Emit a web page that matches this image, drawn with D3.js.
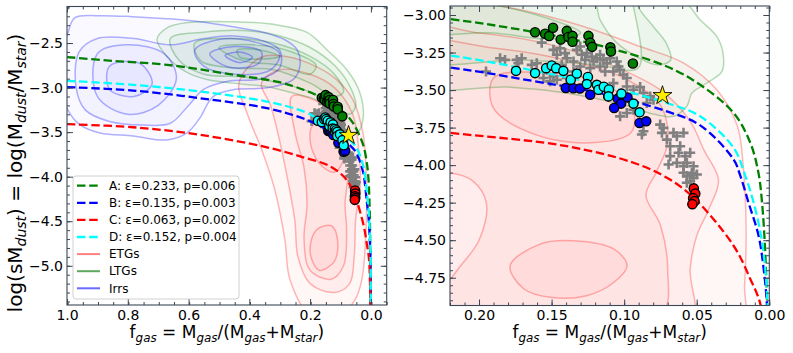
<!DOCTYPE html>
<html>
<head>
<meta charset="utf-8">
<script src="https://cdn.jsdelivr.net/npm/d3@7"></script>
<style>
  body { margin: 0; background: #fff; }
  svg text { font-family: "DejaVu Sans", sans-serif; }
</style>
</head>
<body>
<svg id="chart" width="793" height="353"></svg>
<script>
/* model tracks, [f_gas, log(Mdust/Mstar)] */
const curveA = [[1.0,-2.657],[0.85,-2.70],[0.67,-2.745],[0.45,-2.857],[0.3,-2.94],[0.22,-3.027],[0.17,-3.1],[0.1166,-3.204],[0.0706,-3.343],[0.0476,-3.465],[0.0246,-3.652],[0.0131,-3.851],[0.0075,-4.05],[0.005,-4.25],[0.0028,-4.58],[0.0016,-4.93],[0.0008,-5.3],[0.0004,-5.6]];
const curveB = [[1.0,-2.995],[0.783,-3.033],[0.5625,-3.119],[0.342,-3.231],[0.22,-3.35],[0.1625,-3.44],[0.1166,-3.52],[0.0706,-3.642],[0.0476,-3.735],[0.0246,-3.962],[0.02,-4.07],[0.0143,-4.25],[0.0074,-4.47],[0.0039,-4.69],[0.0016,-4.93],[0.0007,-5.25],[0.0003,-5.6]];
const curveC = [[1.0,-3.411],[0.783,-3.445],[0.5625,-3.53],[0.342,-3.67],[0.22,-3.785],[0.1395,-3.874],[0.0936,-3.984],[0.0706,-4.084],[0.0522,-4.216],[0.0246,-4.537],[0.0131,-4.758],[0.0062,-4.924],[0.003,-5.2],[0.0015,-5.6]];
const curveD = [[1.0,-2.924],[0.783,-2.969],[0.5625,-3.044],[0.342,-3.157],[0.22,-3.27],[0.1625,-3.37],[0.1166,-3.465],[0.0706,-3.586],[0.0476,-3.675],[0.0246,-3.885],[0.0166,-4.07],[0.0108,-4.25],[0.0057,-4.47],[0.0028,-4.69],[0.0012,-4.93],[0.0005,-5.25],[0.0002,-5.6]];
const modelLabels = ["A: ε=0.233, p=0.006", "B: ε=0.135, p=0.003", "C: ε=0.063, p=0.002", "D: ε=0.152, p=0.004"];
const modelColors = ["#008000", "#0000ff", "#ff0000", "#00ffff"];

/* galaxies fitted by each track */
const galA = [[0.1614,-3.115],[0.1545,-3.125],[0.1517,-3.14],[0.149,-3.085],[0.1437,-3.163],[0.1395,-3.106],[0.1384,-3.146],[0.1356,-3.139],[0.1356,-3.178],[0.1246,-3.139],[0.1234,-3.184],[0.1221,-3.212],[0.1095,-3.215],[0.1091,-3.243],[0.094,-3.323]];
const galB = [[0.1402,-3.486],[0.135,-3.488],[0.1305,-3.49],[0.1234,-3.531],[0.111,-3.54],[0.1044,-3.557],[0.1021,-3.59],[0.1069,-3.619],[0.0977,-3.549],[0.0894,-3.719],[0.0848,-3.708]];
const galC = [[0.052,-4.155],[0.051,-4.19],[0.0525,-4.22],[0.0515,-4.24],[0.053,-4.26]];
const galD = [[0.1745,-3.372],[0.1614,-3.387],[0.1538,-3.354],[0.1499,-3.336],[0.1469,-3.354],[0.1419,-3.372],[0.1368,-3.431],[0.1326,-3.39],[0.125,-3.413],[0.1257,-3.46],[0.1188,-3.465],[0.1177,-3.498],[0.114,-3.478],[0.1105,-3.496],[0.1108,-3.542],[0.1019,-3.524],[0.0936,-3.59],[0.0894,-3.648]];
const galOther = [[0.1855,-3.288],[0.1821,-3.299],[0.174,-3.299],[0.1706,-3.288],[0.1729,-3.321],[0.1952,-3.376],[0.1568,-3.184],[0.1487,-3.232],[0.1464,-3.265],[0.1441,-3.221],[0.1407,-3.254],[0.1395,-3.288],[0.1349,-3.31],[0.1326,-3.232],[0.1303,-3.21],[0.1292,-3.265],[0.1269,-3.299],[0.1257,-3.254],[0.1223,-3.277],[0.1211,-3.31],[0.1189,-3.288],[0.1166,-3.265],[0.1143,-3.299],[0.112,-3.321],[0.1097,-3.288],[0.1051,-3.31],[0.1039,-3.343],[0.1028,-3.365],[0.1074,-3.376],[0.1005,-3.398],[0.0982,-3.42],[0.1166,-3.343],[0.1131,-3.376],[0.1234,-3.354],[0.1303,-3.343],[0.1349,-3.376],[0.1487,-3.409],[0.1464,-3.431],[0.1556,-3.42],[0.151,-3.442],[0.1395,-3.42],[0.143,-3.332],[0.1533,-3.365],[0.1637,-3.332],[0.1602,-3.321],[0.1074,-3.454],[0.0982,-3.476],[0.0936,-3.498],[0.089,-3.48],[0.0867,-3.52],[0.0821,-3.542],[0.0798,-3.564],[0.0844,-3.586],[0.0936,-3.631],[0.0982,-3.653],[0.1028,-3.675],[0.0752,-3.73],[0.0729,-3.752],[0.074,-3.785],[0.0706,-3.83],[0.0683,-3.874],[0.066,-3.785],[0.0637,-3.808],[0.0591,-3.785],[0.0614,-3.874],[0.0625,-3.918],[0.0579,-3.94],[0.0545,-3.918],[0.0568,-3.985],[0.0522,-4.007],[0.0533,-4.051],[0.0499,-4.062],[0.0591,-4.007],[0.0637,-3.985],[0.0694,-3.996],[0.0683,-3.94],[0.0867,-3.774],[0.0878,-3.796],[0.0591,-4.051],[0.0568,-4.073],[0.0533,-4.062],[0.0545,-4.106],[0.0522,-4.084],[0.0568,-4.117]];
const milkyWay = [[0.0736,-3.537]];

/* density contours (outer to inner), one set per panel */
const etgLeft = [
  [[0.434,-2.947],[0.365,-2.665],[0.276,-2.654],[0.178,-2.767],[0.112,-2.913],[0.059,-3.138],[0.026,-3.51],[0.016,-3.925],[0.016,-4.6],[0.03,-5.16],[0.053,-5.386],[0.1,-5.55],[0.2,-5.55],[0.266,-5.16],[0.283,-4.71],[0.316,-4.15],[0.359,-3.7],[0.405,-3.31]],
  [[0.36,-2.95],[0.3,-2.8],[0.2,-2.85],[0.12,-3.0],[0.06,-3.3],[0.04,-3.7],[0.035,-4.1],[0.05,-4.47],[0.055,-4.9],[0.07,-5.2],[0.12,-5.3],[0.2,-5.2],[0.24,-4.9],[0.25,-4.5],[0.27,-4.1],[0.3,-3.6],[0.33,-3.2]],
  [[0.26,-3.1],[0.18,-3.15],[0.1,-3.4],[0.07,-3.7],[0.075,-4.0],[0.085,-4.3],[0.08,-4.6],[0.09,-5.0],[0.13,-5.15],[0.2,-5.05],[0.22,-4.7],[0.21,-4.3],[0.22,-3.9],[0.25,-3.5]],
  [[0.19,-3.42],[0.14,-3.4],[0.1,-3.55],[0.09,-3.8],[0.12,-3.95],[0.17,-3.85],[0.2,-3.6]],
  [[0.18,-4.6],[0.13,-4.55],[0.11,-4.7],[0.12,-4.95],[0.17,-5.05],[0.2,-4.85]]
];
const ltgLeft = [
  [[0.704,-2.46],[0.671,-2.33],[0.605,-2.27],[0.454,-2.26],[0.322,-2.29],[0.21,-2.38],[0.145,-2.575],[0.079,-2.8],[0.036,-3.06],[0.026,-3.36],[0.046,-3.51],[0.079,-3.475],[0.125,-3.28],[0.178,-3.14],[0.257,-3.06],[0.342,-2.99],[0.454,-2.95],[0.54,-2.91],[0.605,-2.83],[0.671,-2.65]],
  [[0.66,-2.45],[0.55,-2.38],[0.42,-2.36],[0.3,-2.42],[0.2,-2.55],[0.12,-2.75],[0.07,-2.98],[0.05,-3.2],[0.07,-3.3],[0.12,-3.2],[0.2,-3.05],[0.3,-2.95],[0.42,-2.88],[0.55,-2.85],[0.63,-2.7]],
  [[0.58,-2.5],[0.45,-2.45],[0.32,-2.5],[0.2,-2.65],[0.12,-2.85],[0.09,-3.05],[0.12,-3.1],[0.2,-2.95],[0.32,-2.8],[0.45,-2.78],[0.56,-2.7]],
  [[0.5,-2.55],[0.38,-2.52],[0.26,-2.6],[0.18,-2.75],[0.2,-2.85],[0.3,-2.75],[0.42,-2.7]],
  [[0.44,-2.58],[0.36,-2.58],[0.3,-2.65],[0.36,-2.68],[0.43,-2.66]]
];
const irrLeft = [
  [[1.03,-2.8],[0.997,-2.385],[0.974,-2.215],[0.891,-2.193],[0.783,-2.204],[0.671,-2.227],[0.5625,-2.26],[0.454,-2.317],[0.349,-2.384],[0.283,-2.463],[0.243,-2.575],[0.234,-2.767],[0.257,-2.913],[0.342,-3.003],[0.454,-3.025],[0.52,-3.104],[0.5625,-3.34],[0.605,-3.509],[0.671,-3.588],[0.783,-3.543],[0.891,-3.509],[0.957,-3.419],[0.997,-3.25]],
  [[0.96,-2.6],[0.9,-2.45],[0.78,-2.45],[0.66,-2.52],[0.55,-2.45],[0.45,-2.42],[0.36,-2.47],[0.3,-2.58],[0.3,-2.78],[0.36,-2.9],[0.47,-2.93],[0.55,-3.02],[0.6,-3.2],[0.66,-3.4],[0.75,-3.42],[0.86,-3.38],[0.94,-3.25],[0.97,-3.0]],
  [[0.9,-2.62],[0.8,-2.52],[0.68,-2.62],[0.64,-2.9],[0.7,-3.2],[0.8,-3.3],[0.9,-3.1]],
  [[0.58,-2.58],[0.5,-2.46],[0.38,-2.49],[0.3,-2.62],[0.33,-2.8],[0.45,-2.85],[0.55,-2.76]],
  [[0.86,-2.76],[0.76,-2.73],[0.72,-2.96],[0.78,-3.1],[0.86,-3.02]],
  [[0.53,-2.62],[0.45,-2.54],[0.36,-2.6],[0.37,-2.73],[0.47,-2.77]],
  [[0.48,-2.64],[0.43,-2.6],[0.39,-2.66],[0.43,-2.72]]
];
const etgRight = [
  [[0.25,-2.85],[0.185,-2.94],[0.156,-3.0],[0.128,-3.077],[0.089,-3.21],[0.059,-3.32],[0.036,-3.5],[0.022,-3.74],[0.018,-4.0],[0.016,-4.4],[0.017,-4.8],[0.02,-5.1],[0.25,-5.1]],
  [[0.25,-3.1],[0.2,-3.12],[0.15,-3.2],[0.11,-3.33],[0.075,-3.5],[0.055,-3.7],[0.045,-3.9],[0.035,-4.1],[0.042,-4.3],[0.05,-4.47],[0.0545,-4.69],[0.0545,-5.1],[0.25,-5.1]],
  [[0.25,-3.2],[0.19,-3.22],[0.14,-3.3],[0.1,-3.42],[0.075,-3.6],[0.07,-3.85],[0.078,-4.05],[0.085,-4.2],[0.075,-4.4],[0.07,-4.7],[0.075,-5.0],[0.22,-5.0],[0.225,-4.85],[0.215,-4.7],[0.2,-4.5],[0.195,-4.25],[0.205,-4.1],[0.22,-4.05],[0.25,-4.05]],
  [[0.19,-3.42],[0.16,-3.38],[0.12,-3.44],[0.095,-3.6],[0.095,-3.78],[0.12,-3.85],[0.16,-3.8],[0.19,-3.62]],
  [[0.1786,-4.67],[0.158,-4.526],[0.135,-4.504],[0.107,-4.56],[0.098,-4.67],[0.107,-4.78],[0.126,-4.87],[0.151,-4.88],[0.169,-4.825]]
];
const ltgRight = [
  [[0.25,-2.85],[0.0614,-2.9],[0.0476,-3.033],[0.0361,-3.144],[0.0319,-3.254],[0.0326,-3.376],[0.043,-3.453],[0.0533,-3.52],[0.0568,-3.608],[0.066,-3.675],[0.08,-3.66],[0.1,-3.6],[0.14,-3.52],[0.18,-3.48],[0.25,-3.45]],
  [[0.25,-2.85],[0.122,-2.9],[0.1166,-3.033],[0.107,-3.166],[0.0936,-3.265],[0.0775,-3.332],[0.068,-3.3],[0.071,-3.188],[0.0798,-3.078],[0.089,-2.967],[0.095,-2.85],[0.09,-3.35],[0.12,-3.33],[0.17,-3.3],[0.25,-3.28]],
  [[0.25,-2.9],[0.2,-2.92],[0.16,-3.0],[0.13,-3.12],[0.15,-3.16],[0.19,-3.12],[0.25,-3.1]]
];
const irrRight = [];

const leftXTicks = [1.0, 0.8, 0.6, 0.4, 0.2, 0.0];
const leftYTicks = [-2.5, -3.0, -3.5, -4.0, -4.5, -5.0];
const rightXTicks = [0.20, 0.15, 0.10, 0.05, 0.00];
const rightYTicks = [-3.00, -3.25, -3.50, -3.75, -4.00, -4.25, -4.50, -4.75];

const svg = d3.select("#chart");
const spine = "#3b4754";

function drawPanel(id, box, xDom, yDom, xTicks, yTicks, xMinorStep, yMinorStep, fmt, rings) {
  const x = d3.scaleLinear().domain(xDom).range([box.x0, box.x1]);
  const y = d3.scaleLinear().domain(yDom).range([box.y1, box.y0]);

  svg.append("clipPath").attr("id", id)
    .append("rect").attr("x", box.x0).attr("y", box.y0)
    .attr("width", box.x1 - box.x0).attr("height", box.y1 - box.y0);

  const g = svg.append("g").attr("clip-path", `url(#${id})`);
  const line = d3.line().x(d => x(d[0])).y(d => y(d[1]));

  /* kde contours: stacked light fills and faint outlines */
  rings.forEach(set => {
    set.rings.forEach(r => {
      g.append("path")
        .attr("d", line.curve(d3.curveCatmullRomClosed.alpha(0.5))(r))
        .attr("fill", set.color).attr("fill-opacity", set.alpha)
        .attr("stroke", set.color).attr("stroke-opacity", set.line)
        .attr("stroke-width", 1.5);
    });
  });

  /* other galaxies */
  g.append("g").selectAll("path").data(galOther).join("path")
    .attr("transform", d => `translate(${x(d[0])},${y(d[1])})`)
    .attr("d", "M-5,0H5M0,-5V5")
    .attr("stroke", "#808080").attr("stroke-width", 2.6);

  /* model tracks */
  [curveA, curveB, curveC, curveD].forEach((c, i) => {
    g.append("path")
      .attr("d", line.curve(d3.curveCatmullRom.alpha(0.5))(c))
      .attr("fill", "none").attr("stroke", modelColors[i])
      .attr("stroke-width", 2.3).attr("stroke-dasharray", "8.5,3.7");
  });

  /* galaxies on each track */
  [galA, galB, galD, galC].forEach((pts, i) => {
    const col = [modelColors[0], modelColors[1], modelColors[3], modelColors[2]][i];
    g.append("g").selectAll("circle").data(pts).join("circle")
      .attr("cx", d => x(d[0])).attr("cy", d => y(d[1])).attr("r", 4.6)
      .attr("fill", col).attr("stroke", "#000").attr("stroke-width", 1.4);
  });

  g.append("g").selectAll("path").data(milkyWay).join("path")
    .attr("transform", d => `translate(${x(d[0])},${y(d[1])})`)
    .attr("d", d3.symbol(d3.symbolStar).size(110))
    .attr("fill", "#ffee00").attr("stroke", "#000").attr("stroke-width", 0.9);

  /* axes with inward ticks on all four sides */
  const xMinor = d3.range(xDom[1], xDom[0] + 1e-9, xMinorStep);
  const yMinor = d3.range(Math.ceil(yDom[0] / yMinorStep) * yMinorStep, yDom[1], yMinorStep);
  const styleAxis = a => {
    a.select(".domain").remove();
    a.selectAll("line").attr("stroke", spine);
    a.selectAll("text").attr("fill", "#000").style("font-size", "14px");
  };
  svg.append("g").attr("transform", `translate(0,${box.y1})`)
    .call(d3.axisBottom(x).tickValues(xTicks).tickSize(-6).tickPadding(5).tickFormat(d3.format(fmt[0]))).call(styleAxis);
  svg.append("g").attr("transform", `translate(0,${box.y1})`)
    .call(d3.axisBottom(x).tickValues(xMinor).tickSize(-3).tickFormat("")).call(styleAxis);
  svg.append("g").attr("transform", `translate(0,${box.y0})`)
    .call(d3.axisTop(x).tickValues(xTicks).tickSize(-6).tickFormat("")).call(styleAxis);
  svg.append("g").attr("transform", `translate(0,${box.y0})`)
    .call(d3.axisTop(x).tickValues(xMinor).tickSize(-3).tickFormat("")).call(styleAxis);
  svg.append("g").attr("transform", `translate(${box.x0},0)`)
    .call(d3.axisLeft(y).tickValues(yTicks).tickSize(-6).tickPadding(4).tickFormat(d3.format(fmt[1]))).call(styleAxis);
  svg.append("g").attr("transform", `translate(${box.x0},0)`)
    .call(d3.axisLeft(y).tickValues(yMinor).tickSize(-3).tickFormat("")).call(styleAxis);
  svg.append("g").attr("transform", `translate(${box.x1},0)`)
    .call(d3.axisRight(y).tickValues(yTicks).tickSize(-6).tickFormat("")).call(styleAxis);
  svg.append("g").attr("transform", `translate(${box.x1},0)`)
    .call(d3.axisRight(y).tickValues(yMinor).tickSize(-3).tickFormat("")).call(styleAxis);

  svg.append("rect").attr("x", box.x0).attr("y", box.y0)
    .attr("width", box.x1 - box.x0).attr("height", box.y1 - box.y0)
    .attr("fill", "none").attr("stroke", spine).attr("stroke-width", 1.1);

  /* x label: f_gas = M_gas/(M_gas+M_star) */
  mathText(svg.append("text").attr("x", (box.x0 + box.x1) / 2).attr("y", 338)
    .attr("text-anchor", "middle").style("font-size", "17px"),
    [["f", 0], ["gas", 1], [" = M", 0], ["gas", 1], ["/(M", 0], ["gas", 1], ["+M", 0], ["star", 1], [")", 0]], 17);
  return { x, y };
}

function mathText(t, parts, size) {
  let shifted = false;
  parts.forEach(([s, sub]) => {
    const ts = t.append("tspan").text(s);
    if (sub) {
      ts.style("font-size", (size * 0.7) + "px").style("font-style", "italic").attr("dy", shifted ? 0 : size * 0.22);
      shifted = true;
    } else {
      if (shifted) ts.attr("dy", -size * 0.22);
      shifted = false;
    }
  });
}

drawPanel("clipL", { x0: 67, x1: 386.7, y0: 6.5, y1: 305 }, [1.0, -0.052], [-5.44, -2.09],
  leftXTicks, leftYTicks, 0.05, 0.1, [".1f", ".1f"],
  [{ color: "#ff0000", alpha: 0.035, line: 0.28, rings: etgLeft }, { color: "#008000", alpha: 0.04, line: 0.28, rings: ltgLeft }, { color: "#0000ff", alpha: 0.025, line: 0.3, rings: irrLeft }]);

drawPanel("clipR", { x0: 450, x1: 769.3, y0: 6, y1: 305.5 }, [0.22, 0.0], [-4.935, -2.94],
  rightXTicks, rightYTicks, 0.01, 0.05, [".2f", ".2f"],
  [{ color: "#ff0000", alpha: 0.035, line: 0.28, rings: etgRight }, { color: "#008000", alpha: 0.04, line: 0.28, rings: ltgRight }, { color: "#0000ff", alpha: 0.025, line: 0.3, rings: irrRight }]);

/* y label */
mathText(svg.append("text").attr("transform", "translate(22,173) rotate(-90)")
  .attr("text-anchor", "middle").style("font-size", "20px"),
  [["log(sM", 0], ["dust", 1], [") = log(M", 0], ["dust", 1], ["/M", 0], ["star", 1], [")", 0]], 20);

/* legend */
const legendItems = modelLabels.map((l, i) => ({ label: l, color: modelColors[i], dash: true }))
  .concat([{ label: "ETGs", color: "#ff8080" }, { label: "LTGs", color: "#5fa85f" }, { label: "Irrs", color: "#6b6bff" }]);
const lg = svg.append("g").attr("transform", "translate(73,176)");
lg.append("rect").attr("width", 166).attr("height", 123).attr("rx", 3)
  .attr("fill", "#fff").attr("fill-opacity", 0.85).attr("stroke", "#d0d0d0");
const row = lg.selectAll("g").data(legendItems).join("g")
  .attr("transform", (d, i) => `translate(0,${9.7 + i * 17.1})`);
row.append("line").attr("x1", 4).attr("x2", 27)
  .attr("stroke", d => d.color).attr("stroke-width", d => d.dash ? 2.3 : 2)
  .attr("stroke-dasharray", d => d.dash ? "8.5,3.7" : null);
row.append("text").attr("x", 36).attr("dy", "0.35em").style("font-size", "12px").text(d => d.label);
</script>
</body>
</html>
